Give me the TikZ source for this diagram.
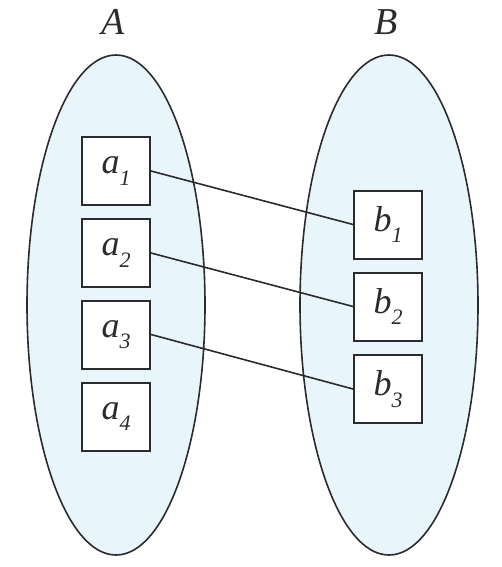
\documentclass[tikz,border=0pt]{standalone}
\usepackage{fontspec}
\setmainfont{Liberation Serif}
\definecolor{setfill}{HTML}{E8F6FC}
\definecolor{ink}{HTML}{2B2B2E}
\tikzset{
  setell/.style={draw=ink, fill=setfill, line width=1.6pt},
  elem/.style={draw=ink, fill=white, line width=2pt, minimum width=68pt, minimum height=68pt, inner sep=0pt,
    font=\fontsize{36}{40}\selectfont\itshape, text=ink},
  link/.style={draw=ink, line width=1.6pt},
  setlabel/.style={font=\fontsize{38}{40}\selectfont\itshape, text=ink, inner sep=0pt}
}
\newcommand{\el}[2]{#1\raisebox{-0.32em}{\fontsize{22}{22}\selectfont\itshape #2}}
\begin{document}
\begin{tikzpicture}[x=1pt,y=-1pt]
\useasboundingbox (0,0) rectangle (502,567);
\draw[setell] (116,305) ellipse [x radius=89, y radius=250];
\draw[setell] (389,305) ellipse [x radius=89, y radius=250];
\node[setlabel] (A) at (113,22) {A};
\node[setlabel] (B) at (386,22) {B};
\node[elem] (a1) at (116,171) {\el{a}{1}};
\node[elem] (a2) at (116,253) {\el{a}{2}};
\node[elem] (a3) at (116,334.5) {\el{a}{3}};
\node[elem] (a4) at (116,416.5) {\el{a}{4}};
\node[elem] (b1) at (388,224.5) {\el{b}{1}};
\node[elem] (b2) at (388,306.5) {\el{b}{2}};
\node[elem] (b3) at (388,389) {\el{b}{3}};
\draw[link] (a1.east) -- (b1.west);
\draw[link] (a2.east) -- (b2.west);
\draw[link] (a3.east) -- (b3.west);
\end{tikzpicture}
\end{document}
